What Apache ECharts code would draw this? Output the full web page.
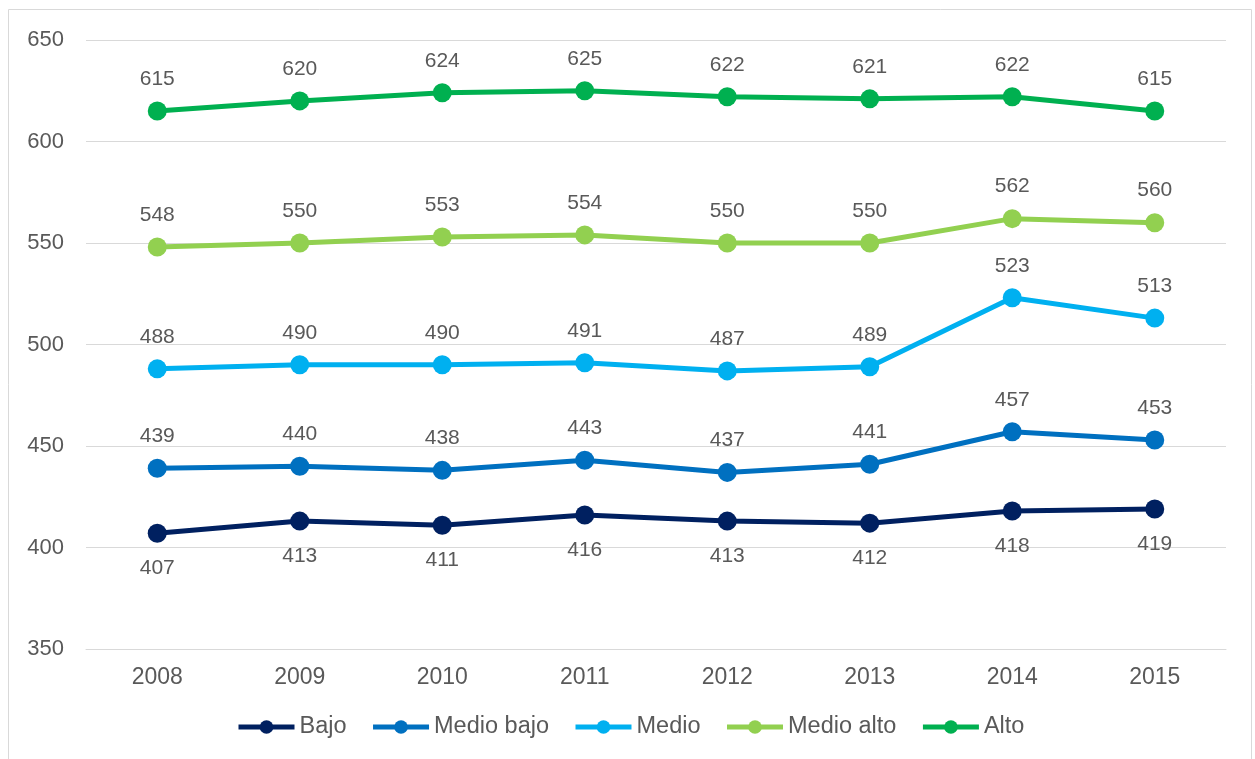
<!DOCTYPE html>
<html>
<head>
<meta charset="utf-8">
<script src="https://cdn.jsdelivr.net/npm/echarts@6/dist/echarts.min.js"></script>
<style>
  html, body { margin: 0; padding: 0; background: #fff; }
  #chart { width: 1255px; height: 759px; }
</style>
</head>
<body>
<div id="chart"></div>
<script>
const years = ['2008', '2009', '2010', '2011', '2012', '2013', '2014', '2015'];
const bajo = [407, 413, 411, 416, 413, 412, 418, 419];
const medioBajo = [439, 440, 438, 443, 437, 441, 457, 453];
const medio = [488, 490, 490, 491, 487, 489, 523, 513];
const medioAlto = [548, 550, 553, 554, 550, 550, 562, 560];
const alto = [615, 620, 624, 625, 622, 621, 622, 615];

const textColor = '#595959';
const font = 'Liberation Sans, Arial, sans-serif';

// una serie de linea con etiquetas
function lineSeries(name, data, color, labelPos) {
  return {
    name: name,
    type: 'line',
    data: data,
    symbol: 'circle',
    symbolSize: 19,
    lineStyle: { width: 5, color: color },
    itemStyle: { color: color },
    label: {
      show: true,
      position: labelPos,
      distance: labelPos === 'top' ? 12 : 15,
      color: textColor,
      fontSize: 21,
      fontFamily: font
    }
  };
}

const chart = echarts.init(document.getElementById('chart'));
chart.setOption({
  animation: false,
  textStyle: { fontFamily: font },
  graphic: [{
    type: 'rect',
    shape: { x: 8.5, y: 9.5, width: 1243, height: 760 },
    style: { fill: 'none', stroke: '#d9d9d9', lineWidth: 1 },
    silent: true
  }],
  grid: { left: 86, right: 29, top: 40, bottom: 110 },
  legend: {
    bottom: 15,
    left: 231,
    itemWidth: 56,
    itemHeight: 17,
    itemGap: 24,
    lineStyle: { width: 5 },
    textStyle: { color: textColor, fontSize: 23.5, fontFamily: font },
    data: ['Bajo', 'Medio bajo', 'Medio', 'Medio alto', 'Alto']
  },
  xAxis: {
    type: 'category',
    data: years,
    axisLine: { lineStyle: { color: '#d9d9d9', width: 1 } },
    axisTick: { show: false },
    axisLabel: { color: textColor, fontSize: 23, fontFamily: font, margin: 17 }
  },
  yAxis: {
    type: 'value',
    min: 350,
    max: 650,
    interval: 50,
    axisLine: { show: false },
    axisTick: { show: false },
    splitLine: { lineStyle: { color: '#d9d9d9', width: 1 } },
    axisLabel: { color: textColor, fontSize: 22, fontFamily: font, margin: 22 }
  },
  series: [
    lineSeries('Bajo', bajo, '#002060', 'bottom'),
    lineSeries('Medio bajo', medioBajo, '#0070C0', 'top'),
    lineSeries('Medio', medio, '#00B0F0', 'top'),
    lineSeries('Medio alto', medioAlto, '#92D050', 'top'),
    lineSeries('Alto', alto, '#00B050', 'top')
  ]
});
</script>
</body>
</html>
